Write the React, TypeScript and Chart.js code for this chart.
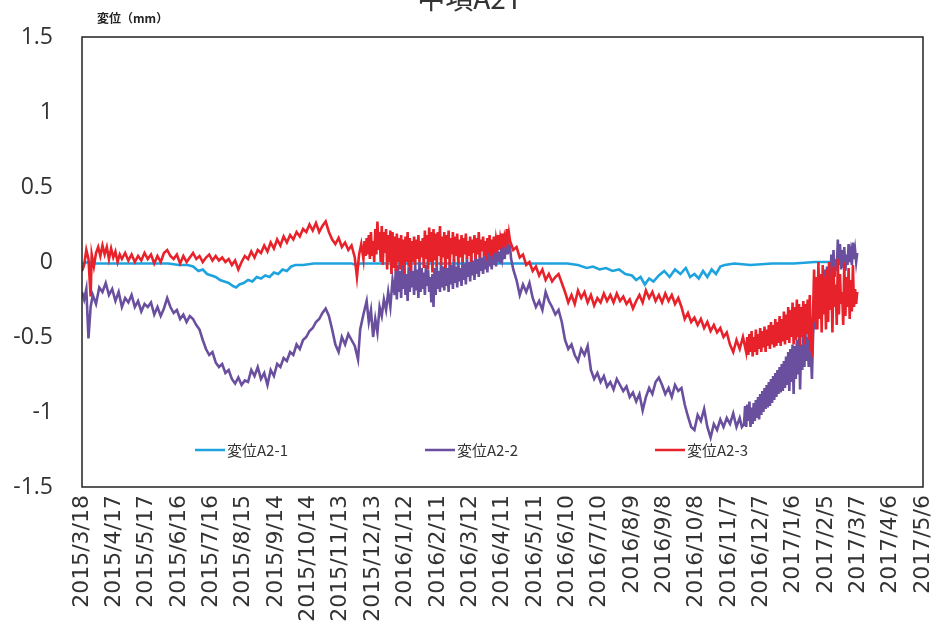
import React, { useEffect, useRef } from "react";
import { Chart, registerables } from "chart.js";

Chart.register(...registerables);

const TITLE = "中項A2T";
const Y_TITLE = "変位（mm）";
const X_TICK_LABELS = [
  "2015/3/18", "2015/4/17", "2015/5/17", "2015/6/16", "2015/7/16", "2015/8/15",
  "2015/9/14", "2015/10/14", "2015/11/13", "2015/12/13", "2016/1/12", "2016/2/11",
  "2016/3/12", "2016/4/11", "2016/5/11", "2016/6/10", "2016/7/10", "2016/8/9",
  "2016/9/8", "2016/10/8", "2016/11/7", "2016/12/7", "2017/1/6", "2017/2/5",
  "2017/3/7", "2017/4/6", "2017/5/6",
];
const X_STEP_DAYS = 30;
const Y_MIN = -1.5;
const Y_MAX = 1.5;
const Y_STEP = 0.5;
const SERIES_NAMES = ["変位A2-1", "変位A2-2", "変位A2-3"];
const SERIES_COLORS = ["#1fa3df", "#6a4f9f", "#e8222b"];

// [day offset from 2015/3/18, displacement mm]
const A2_1: [number, number][] = [
  [0, -0.01], [6, 0.0], [12, -0.01], [20, -0.01], [30, -0.01], [40, -0.01], [50, -0.01],
  [60, -0.01], [70, -0.01], [80, -0.01], [90, -0.02], [98, -0.02], [103, -0.03], [108, -0.06],
  [112, -0.05], [116, -0.08], [120, -0.09], [124, -0.1], [128, -0.12], [132, -0.13], [136, -0.14],
  [140, -0.16], [143, -0.17], [146, -0.15], [150, -0.14], [154, -0.12], [158, -0.13], [162, -0.1],
  [166, -0.11], [170, -0.09], [174, -0.1], [178, -0.07], [182, -0.08], [186, -0.05], [190, -0.06],
  [194, -0.03], [198, -0.02], [205, -0.02], [215, -0.01], [230, -0.01], [250, -0.01], [255, -0.02],
  [258, -0.01], [270, -0.01], [300, -0.01], [330, -0.01], [360, -0.01], [390, -0.01], [420, -0.01],
  [450, -0.01], [460, -0.02], [468, -0.04], [474, -0.03], [480, -0.05], [486, -0.04], [492, -0.06],
  [498, -0.05], [504, -0.08], [510, -0.09], [514, -0.12], [518, -0.1], [522, -0.15], [526, -0.11],
  [530, -0.13], [535, -0.09], [540, -0.06], [545, -0.1], [550, -0.05], [555, -0.08], [560, -0.04],
  [564, -0.1], [568, -0.08], [572, -0.11], [576, -0.06], [580, -0.1], [584, -0.05], [588, -0.08],
  [592, -0.03], [596, -0.02], [605, -0.01], [620, -0.02], [640, -0.01], [660, -0.01], [680, 0.0],
  [700, 0.0], [710, 0.0],
];

const A2_2: [number, number][] = [
  [0, -0.2], [2, -0.25], [4, -0.18], [6, -0.51], [8, -0.3], [10, -0.22], [13, -0.28], [16, -0.17],
  [19, -0.2], [22, -0.14], [25, -0.22], [28, -0.18], [31, -0.26], [34, -0.2], [37, -0.3], [40, -0.24],
  [43, -0.27], [46, -0.22], [49, -0.3], [52, -0.26], [55, -0.33], [58, -0.28], [61, -0.3], [64, -0.27],
  [67, -0.35], [70, -0.3], [73, -0.36], [76, -0.31], [79, -0.24], [82, -0.3], [85, -0.34], [88, -0.32],
  [91, -0.38], [94, -0.35], [97, -0.4], [100, -0.36], [103, -0.38], [106, -0.42], [109, -0.45],
  [112, -0.52], [115, -0.58], [118, -0.62], [121, -0.6], [124, -0.67], [127, -0.7], [130, -0.68],
  [133, -0.74], [136, -0.72], [139, -0.78], [142, -0.81], [145, -0.77], [148, -0.82], [151, -0.79],
  [154, -0.8], [157, -0.72], [160, -0.76], [163, -0.7], [166, -0.78], [169, -0.74], [172, -0.82],
  [175, -0.72], [178, -0.76], [181, -0.68], [184, -0.7], [187, -0.64], [190, -0.66], [193, -0.6],
  [196, -0.62], [199, -0.55], [202, -0.58], [205, -0.52], [208, -0.5], [211, -0.46], [214, -0.44],
  [217, -0.4], [220, -0.38], [223, -0.34], [226, -0.31], [229, -0.36], [232, -0.45], [235, -0.55],
  [238, -0.6], [241, -0.5], [244, -0.55], [247, -0.48], [250, -0.52], [253, -0.56], [256, -0.65],
  [258, -0.45], [261, -0.35], [264, -0.26], [266, -0.4], [268, -0.32], [270, -0.5], [272, -0.38],
  [274, -0.47], [276, -0.3], [278, -0.36], [280, -0.25], [282, -0.32], [284, -0.2], [286, -0.3],
  [288, -0.12],
  [290, -0.22], [291, -0.05], [292, -0.25], [293, -0.02], [294, -0.2], [295, -0.06], [296, -0.24],
  [297, 0.0], [298, -0.18], [299, -0.04], [300, -0.22], [301, -0.08], [302, -0.26], [303, -0.03],
  [304, -0.2], [305, -0.01], [306, -0.17], [307, -0.06], [308, -0.22], [309, -0.02], [310, -0.19],
  [311, -0.05], [312, -0.24], [313, 0.0], [314, -0.2], [315, -0.04], [316, -0.18], [317, -0.07],
  [318, -0.22], [319, -0.02], [320, -0.16], [321, -0.05], [322, -0.2], [323, -0.1], [324, -0.27],
  [325, -0.08], [326, -0.3], [327, -0.04], [328, -0.22], [329, -0.02], [330, -0.18], [331, -0.06],
  [332, -0.2], [333, 0.0], [334, -0.17], [335, -0.03], [336, -0.19], [337, 0.01], [338, -0.16],
  [339, -0.04], [340, -0.2], [341, 0.0], [342, -0.15], [343, -0.02], [344, -0.18], [345, 0.02],
  [346, -0.14], [347, -0.03], [348, -0.17], [349, 0.01], [350, -0.13], [351, -0.04], [352, -0.16],
  [353, 0.02], [354, -0.12], [355, -0.01], [356, -0.15], [357, 0.03], [358, -0.1], [359, 0.0],
  [360, -0.13], [361, 0.04], [362, -0.09], [363, 0.01], [364, -0.12], [365, 0.05], [366, -0.08],
  [367, 0.02], [368, -0.1], [369, 0.06], [370, -0.06], [371, 0.03], [372, -0.08], [373, 0.07],
  [374, -0.05], [375, 0.04], [376, -0.07], [377, 0.08], [378, -0.03], [379, 0.05], [380, -0.05],
  [381, 0.09], [382, -0.02], [383, 0.06], [384, -0.03], [385, 0.1], [386, 0.0], [387, 0.07],
  [388, -0.01], [389, 0.11], [390, 0.03], [391, 0.08], [392, 0.02], [393, 0.12], [394, 0.05],
  [395, 0.13], [396, 0.08], [397, 0.1], [398, 0.02],
  [400, -0.05], [403, -0.12], [406, -0.22], [409, -0.15], [412, -0.2], [415, -0.14], [418, -0.24],
  [421, -0.3], [424, -0.26], [427, -0.32], [430, -0.2], [433, -0.26], [436, -0.3], [439, -0.35],
  [442, -0.32], [445, -0.4], [448, -0.52], [451, -0.58], [454, -0.55], [457, -0.62], [460, -0.66],
  [463, -0.58], [466, -0.62], [469, -0.56], [472, -0.72], [475, -0.78], [478, -0.74], [481, -0.8],
  [484, -0.76], [487, -0.83], [490, -0.8], [493, -0.85], [496, -0.78], [499, -0.82], [502, -0.86],
  [505, -0.83], [508, -0.9], [511, -0.87], [514, -0.93], [517, -0.88], [520, -0.99], [523, -0.9],
  [526, -0.84], [529, -0.88], [532, -0.8], [535, -0.77], [538, -0.82], [541, -0.88], [544, -0.84],
  [547, -0.9], [550, -0.82], [553, -0.86], [556, -0.84], [559, -0.95], [562, -1.03], [565, -1.1],
  [568, -1.12], [571, -1.02], [574, -1.06], [577, -0.98], [580, -1.1], [583, -1.17], [586, -1.08],
  [589, -1.12], [592, -1.05], [595, -1.1], [598, -1.04], [601, -1.08], [604, -1.01], [607, -1.1],
  [610, -1.04], [612, -1.1],
  [614, -1.08], [615, -0.96], [616, -1.1], [617, -0.95], [618, -1.06], [619, -0.93], [620, -1.1],
  [621, -0.97], [622, -1.08], [623, -0.94], [624, -1.06], [625, -0.92], [626, -1.04], [627, -0.9],
  [628, -1.05], [629, -0.88], [630, -1.02], [631, -0.86], [632, -1.0], [633, -0.84], [634, -0.98],
  [635, -0.82], [636, -0.97], [637, -0.8], [638, -0.96], [639, -0.78], [640, -0.94], [641, -0.76],
  [642, -0.92], [643, -0.74], [644, -0.9], [645, -0.72], [646, -0.88], [647, -0.7], [648, -0.87],
  [649, -0.68], [650, -0.86], [651, -0.66], [652, -0.84], [653, -0.63], [654, -0.82], [655, -0.6],
  [656, -0.86], [657, -0.58], [658, -0.8], [659, -0.55], [660, -0.88], [661, -0.56], [662, -0.78],
  [663, -0.52], [664, -0.75], [665, -0.5], [666, -0.85], [667, -0.55], [668, -0.72], [669, -0.5],
  [670, -0.7], [671, -0.48], [672, -0.66], [673, -0.5], [674, -0.7], [675, -0.52], [676, -0.62],
  [677, -0.78], [678, -0.5], [679, -0.35], [680, -0.45], [681, -0.27], [682, -0.38], [683, -0.2],
  [684, -0.33], [685, -0.15], [686, -0.3], [687, -0.08], [688, -0.26], [689, -0.05], [690, -0.3],
  [691, -0.03], [692, -0.22], [693, 0.0], [694, -0.18], [695, 0.05], [696, -0.12], [697, 0.08],
  [698, -0.1], [699, 0.02], [700, -0.06], [701, 0.15], [702, -0.02], [703, 0.12], [704, -0.05],
  [705, 0.08], [706, -0.04], [707, 0.1], [708, -0.06], [709, 0.05], [710, -0.02], [711, 0.12],
  [712, 0.0], [713, 0.06], [714, -0.02], [715, 0.13], [716, 0.02], [717, 0.08], [718, 0.0],
  [719, 0.06],
];

const A2_3: [number, number][] = [
  [0, -0.06], [2, -0.02], [4, 0.08], [6, 0.02], [8, -0.23], [9, 0.05], [11, -0.03], [13, 0.06],
  [15, 0.1], [17, 0.04], [19, 0.11], [21, 0.05], [23, 0.1], [25, 0.02], [27, 0.09], [29, 0.03],
  [31, 0.07], [33, 0.0], [35, 0.05], [37, 0.02], [40, 0.06], [43, 0.01], [46, 0.05], [49, 0.0],
  [52, 0.04], [55, 0.01], [58, 0.06], [61, 0.02], [64, 0.05], [67, -0.01], [70, 0.04], [73, 0.0],
  [76, 0.06], [79, 0.08], [82, 0.04], [85, 0.02], [88, 0.05], [91, -0.01], [94, 0.04], [97, 0.0],
  [100, 0.03], [103, 0.06], [106, 0.02], [109, 0.04], [112, 0.0], [115, 0.03], [118, 0.05],
  [121, 0.01], [124, 0.04], [127, 0.01], [130, 0.03], [133, 0.0], [136, 0.02], [139, -0.02],
  [142, 0.01], [145, -0.05], [148, 0.0], [151, 0.04], [154, 0.02], [157, 0.07], [160, 0.03],
  [163, 0.08], [166, 0.06], [169, 0.11], [172, 0.07], [175, 0.13], [178, 0.09], [181, 0.15],
  [184, 0.11], [187, 0.17], [190, 0.13], [193, 0.18], [196, 0.15], [199, 0.2], [202, 0.17],
  [205, 0.22], [208, 0.2], [211, 0.25], [214, 0.21], [217, 0.26], [220, 0.2], [223, 0.24],
  [226, 0.27], [229, 0.2], [232, 0.15], [235, 0.12], [238, 0.16], [241, 0.1], [244, 0.13],
  [247, 0.08], [250, 0.11], [253, 0.03], [255, -0.1], [257, 0.05], [259, 0.12],
  [261, 0.02], [262, 0.14], [263, 0.04], [264, 0.16], [265, 0.05], [266, 0.18], [267, 0.02],
  [268, 0.2], [269, 0.04], [270, 0.14], [271, 0.0], [272, 0.22], [273, 0.05], [274, 0.27],
  [275, 0.08], [276, 0.2], [277, 0.0], [278, 0.24], [279, -0.02], [280, 0.2], [281, 0.06],
  [282, 0.22], [283, -0.05], [284, 0.18], [285, 0.0], [286, 0.21], [287, -0.08], [288, 0.2],
  [289, -0.04], [290, 0.17], [291, -0.06], [292, 0.19], [293, 0.0], [294, 0.16], [295, -0.05],
  [296, 0.18], [297, -0.02], [298, 0.15], [299, -0.08], [300, 0.17], [301, 0.0], [302, 0.2],
  [303, -0.03], [304, 0.16], [305, -0.06], [306, 0.14], [307, 0.0], [308, 0.17], [309, -0.02],
  [310, 0.15], [311, 0.02], [312, 0.18], [313, 0.0], [314, 0.14], [315, 0.03], [316, 0.16],
  [317, -0.04], [318, 0.21], [319, 0.02], [320, 0.18], [321, -0.05], [322, 0.23], [323, 0.0],
  [324, 0.2], [325, -0.07], [326, 0.22], [327, 0.01], [328, 0.19], [329, -0.03], [330, 0.2],
  [331, 0.04], [332, 0.24], [333, -0.02], [334, 0.17], [335, 0.03], [336, 0.2], [337, -0.04],
  [338, 0.18], [339, 0.02], [340, 0.21], [341, -0.02], [342, 0.16], [343, 0.05], [344, 0.2],
  [345, 0.0], [346, 0.17], [347, 0.04], [348, 0.19], [349, -0.01], [350, 0.15], [351, 0.03],
  [352, 0.18], [353, 0.0], [354, 0.16], [355, 0.05], [356, 0.19], [357, 0.02], [358, 0.14],
  [359, 0.04], [360, 0.17], [361, 0.0], [362, 0.15], [363, 0.06], [364, 0.18], [365, 0.02],
  [366, 0.16], [367, 0.05], [368, 0.2], [369, 0.03], [370, 0.15], [371, 0.07], [372, 0.17],
  [373, 0.04], [374, 0.14], [375, 0.08], [376, 0.16], [377, 0.06], [378, 0.18], [379, 0.04],
  [380, 0.15], [381, 0.09], [382, 0.17], [383, 0.06], [384, 0.15], [385, 0.1], [386, 0.18],
  [387, 0.08], [388, 0.16], [389, 0.12], [390, 0.19], [391, 0.1], [392, 0.17], [393, 0.14],
  [394, 0.22], [395, 0.12], [396, 0.19], [397, 0.14],
  [400, 0.08], [403, 0.1], [406, 0.03], [409, 0.05], [412, -0.02], [415, 0.0], [418, -0.06],
  [421, -0.03], [424, -0.09], [427, -0.05], [430, -0.12], [433, -0.08], [436, -0.13], [439, -0.1],
  [442, -0.08], [445, -0.14], [448, -0.2], [451, -0.27], [454, -0.22], [457, -0.28], [460, -0.19],
  [463, -0.24], [466, -0.2], [469, -0.27], [472, -0.22], [475, -0.29], [478, -0.24], [481, -0.27],
  [484, -0.21], [487, -0.26], [490, -0.22], [493, -0.27], [496, -0.21], [499, -0.26], [502, -0.23],
  [505, -0.28], [508, -0.25], [511, -0.31], [514, -0.26], [517, -0.22], [520, -0.27], [523, -0.19],
  [526, -0.24], [529, -0.2], [532, -0.26], [535, -0.22], [538, -0.27], [541, -0.21], [544, -0.26],
  [547, -0.22], [550, -0.28], [553, -0.24], [556, -0.3], [559, -0.38], [562, -0.34], [565, -0.4],
  [568, -0.37], [571, -0.42], [574, -0.38], [577, -0.44], [580, -0.4], [583, -0.46], [586, -0.42],
  [589, -0.47], [592, -0.44], [595, -0.5], [598, -0.47], [601, -0.55], [604, -0.6], [607, -0.52],
  [610, -0.58], [613, -0.5],
  [616, -0.6], [617, -0.5], [618, -0.62], [619, -0.48], [620, -0.6], [621, -0.46], [622, -0.63],
  [623, -0.5], [624, -0.6], [625, -0.45], [626, -0.62], [627, -0.48], [628, -0.58], [629, -0.44],
  [630, -0.6], [631, -0.46], [632, -0.57], [633, -0.43], [634, -0.6], [635, -0.45], [636, -0.56],
  [637, -0.42], [638, -0.58], [639, -0.4], [640, -0.55], [641, -0.42], [642, -0.57], [643, -0.38],
  [644, -0.56], [645, -0.4], [646, -0.54], [647, -0.36], [648, -0.56], [649, -0.38], [650, -0.53],
  [651, -0.33], [652, -0.55], [653, -0.35], [654, -0.52], [655, -0.3], [656, -0.54], [657, -0.32],
  [658, -0.5], [659, -0.27], [660, -0.55], [661, -0.3], [662, -0.52], [663, -0.25], [664, -0.5],
  [665, -0.28], [666, -0.56], [667, -0.3], [668, -0.5], [669, -0.26], [670, -0.55], [671, -0.28],
  [672, -0.48], [673, -0.25], [674, -0.52], [675, -0.22], [676, -0.58], [677, -0.6], [678, -0.35],
  [679, -0.05], [680, -0.4], [681, -0.1], [682, -0.45], [683, 0.0], [684, -0.38], [685, -0.08],
  [686, -0.47], [687, -0.02], [688, -0.35], [689, -0.1], [690, -0.45], [691, -0.05], [692, -0.4],
  [693, 0.0], [694, -0.32], [695, -0.12], [696, -0.47], [697, -0.03], [698, -0.3], [699, -0.15],
  [700, -0.42], [701, 0.02], [702, -0.35], [703, -0.08], [704, -0.28], [705, -0.2], [706, -0.42],
  [707, 0.0], [708, -0.36], [709, -0.1], [710, -0.3], [711, -0.04], [712, -0.38], [713, -0.12],
  [714, -0.33], [715, -0.02], [716, -0.3], [717, -0.18], [718, -0.28], [719, -0.2],
];

const SERIES_DATA = [A2_1, A2_2, A2_3];

const decorPlugin = {
  id: "decor",
  afterDraw(chart: any) {
    const { ctx, chartArea: a } = chart;
    ctx.save();
    ctx.strokeStyle = "#222";
    ctx.lineWidth = 1.5;
    ctx.strokeRect(a.left, a.top, a.right - a.left, a.bottom - a.top);

    ctx.fillStyle = "#333";
    ctx.font = '28px "Noto Sans CJK JP"';
    ctx.textAlign = "center";
    ctx.textBaseline = "alphabetic";
    ctx.fillText(TITLE, 470, 9);

    ctx.fillStyle = "#222";
    ctx.font = 'bold 12px "Noto Sans CJK JP"';
    ctx.textAlign = "left";
    ctx.textBaseline = "middle";
    ctx.fillText(Y_TITLE, 97, 18);

    const ly = a.bottom - 37;
    const offsets = [113, 343, 573];
    ctx.font = '15px "Noto Sans CJK JP"';
    SERIES_NAMES.forEach((name, i) => {
      const x = a.left + offsets[i];
      ctx.strokeStyle = SERIES_COLORS[i];
      ctx.lineWidth = 2.5;
      ctx.beginPath();
      ctx.moveTo(x, ly);
      ctx.lineTo(x + 30, ly);
      ctx.stroke();
      ctx.fillStyle = "#333";
      ctx.fillText(name, x + 32, ly);
    });
    ctx.restore();
  },
};

export default function App() {
  const ref = useRef<HTMLCanvasElement | null>(null);
  useEffect(() => {
    if (!ref.current) return;
    const chart = new Chart(ref.current, {
      type: "line",
      data: {
        datasets: SERIES_NAMES.map((name, i) => ({
          label: name,
          data: SERIES_DATA[i].map(([d, v]) => ({ x: d, y: v })),
          borderColor: SERIES_COLORS[i],
          backgroundColor: SERIES_COLORS[i],
          borderWidth: 2.6,
          pointRadius: 0,
          tension: 0,
          fill: false,
          order: 2 - i,
        })),
      },
      options: {
        responsive: false,
        animation: false,
        devicePixelRatio: 1,
        layout: { padding: { left: 0, right: 18, top: 37, bottom: 0 } },
        plugins: {
          legend: { display: false },
          title: { display: false },
          tooltip: { enabled: false },
        },
        scales: {
          x: {
            type: "linear",
            min: 0,
            max: (X_TICK_LABELS.length - 1) * X_STEP_DAYS,
            grid: { display: false, drawTicks: false },
            border: { display: false },
            afterFit: (s: any) => {
              s.height = 156;
              s.paddingLeft = 0;
              s.paddingRight = 0;
            },
            ticks: {
              stepSize: X_STEP_DAYS,
              autoSkip: false,
              minRotation: 90,
              maxRotation: 90,
              padding: 8,
              color: "#333",
              font: { family: '"DejaVu Sans"', size: 22 },
              callback: (v: any) => {
                const idx = Math.round(Number(v) / X_STEP_DAYS);
                return X_TICK_LABELS[idx] ?? "";
              },
            },
          },
          y: {
            min: Y_MIN,
            max: Y_MAX,
            grid: { display: false, drawTicks: false },
            border: { display: false },
            afterFit: (s: any) => {
              s.width = 82;
              s.paddingTop = 0;
              s.paddingBottom = 0;
            },
            ticks: {
              stepSize: Y_STEP,
              padding: 29,
              color: "#333",
              font: { family: '"Open Sans"', size: 23 },
              callback: (v: any) => String(Math.round(Number(v) * 10) / 10),
            },
          },
        },
      },
      plugins: [decorPlugin],
    });
    return () => chart.destroy();
  }, []);
  return (
    <div style={{ position: "absolute", left: 0, top: 0, width: 941, height: 643 }}>
      <canvas ref={ref} width={941} height={643} style={{ display: "block" }} />
    </div>
  );
}
